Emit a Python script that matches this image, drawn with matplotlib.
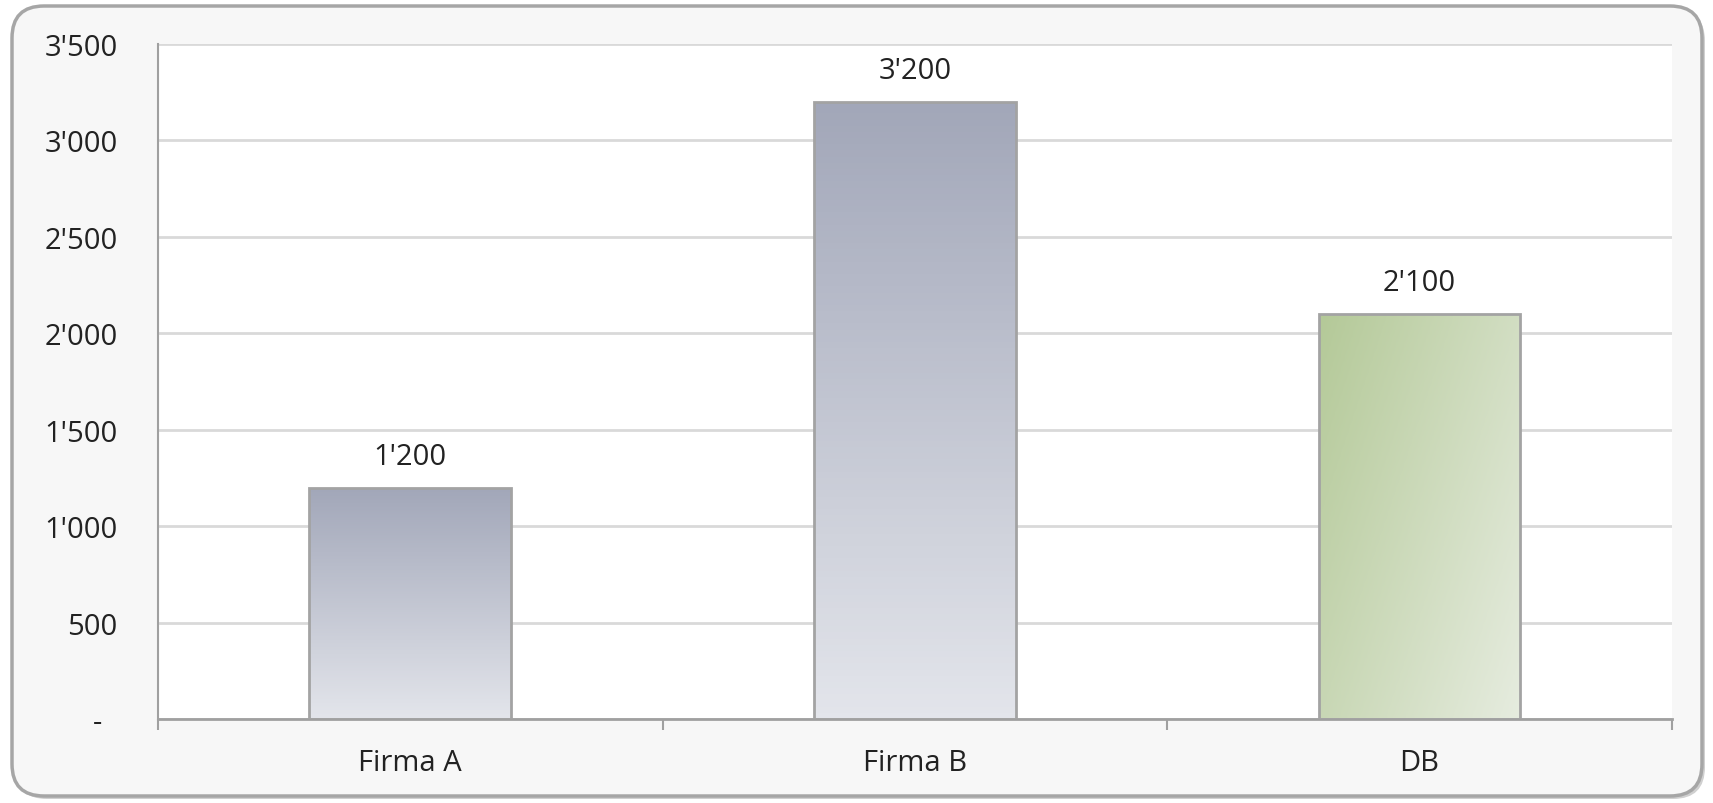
import matplotlib.pyplot as plt
import numpy as np
from matplotlib.patches import FancyBboxPatch
from matplotlib.colors import LinearSegmentedColormap
from matplotlib.ticker import FuncFormatter

# data
categories = ['Firma A', 'Firma B', 'DB']
values = [1200, 3200, 2100]
yticks = [0, 500, 1000, 1500, 2000, 2500, 3000, 3500]

plt.rcParams['font.family'] = ['Open Sans', 'DejaVu Sans']
fs = 21

fig = plt.figure(figsize=(17.13, 8.04), dpi=100)
fig.patch.set_facecolor('white')

# rounded frame around chart (inch coords)
shadow = FancyBboxPatch((0.15, 0.04), 16.9, 7.9, boxstyle='round,pad=0,rounding_size=0.32',
                        transform=fig.dpi_scale_trans, facecolor='#d0d0d0', edgecolor='none',
                        zorder=-3)
frame = FancyBboxPatch((0.12, 0.07), 16.9, 7.9, boxstyle='round,pad=0,rounding_size=0.32',
                       transform=fig.dpi_scale_trans, facecolor='#f7f7f7', edgecolor='#a6a6a6',
                       linewidth=2.5, zorder=-2)
fig.add_artist(shadow)
fig.add_artist(frame)

ax = fig.add_axes([0.0922, 0.1045, 0.8838, 0.8395])
ax.set_facecolor('white')

x = np.arange(len(categories))
bars = ax.bar(x, values, width=0.4, edgecolor='#a3a3a3', linewidth=2, facecolor='none', zorder=3)

grey_cmap = LinearSegmentedColormap.from_list('g', ['#e3e5eb', '#a2a7b9'])
green_cmap = LinearSegmentedColormap.from_list('gr', ['#e6ecdf', '#b4c998'])

for i, b in enumerate(bars):
    x0, y0 = b.get_x(), b.get_y()
    w, h = b.get_width(), b.get_height()
    if categories[i] == 'DB':
        # diagonal gradient, dark at top-left
        gx, gy = np.meshgrid(np.linspace(1, 0, 100), np.linspace(0, 1, 100))
        grad = (gx * 0.6 + gy * 0.4)
        cmap = green_cmap
    else:
        grad = np.linspace(0, 1, 100).reshape(-1, 1)
        cmap = grey_cmap
    im = ax.imshow(grad, extent=[x0, x0 + w, y0, y0 + h], origin='lower', aspect='auto',
                   cmap=cmap, zorder=2)
    im.set_clip_path(b)
    ax.annotate(f"{values[i]:,}".replace(',', "'"), (x0 + w / 2, y0 + h), xytext=(0, 12),
                textcoords='offset points', ha='center', va='bottom', fontsize=fs, color='#222222')

ax.set_xlim(-0.5, 2.5)
ax.set_ylim(0, 3500)
ax.set_yticks(yticks)
ax.yaxis.set_major_formatter(FuncFormatter(lambda v, p: '-  ' if v == 0 else f"{int(v):,}".replace(',', "'")))
ax.tick_params(axis='y', length=0, pad=29, labelsize=fs, labelcolor='#222222')

ax.set_xticks([-0.5, 0.5, 1.5, 2.5])
ax.set_xticklabels([])
ax.set_xticks(x, minor=True)
ax.set_xticklabels(categories, minor=True)
ax.tick_params(axis='x', which='major', length=8, width=1.5, color='#a0a0a0')
ax.tick_params(axis='x', which='minor', length=0, pad=21, labelsize=fs, labelcolor='#222222')

ax.grid(axis='y', color='#d9d9d9', linewidth=2, zorder=0)
ax.set_axisbelow(True)
for s in ['top', 'right']:
    ax.spines[s].set_visible(False)
ax.spines['left'].set_color('#a0a0a0')
ax.spines['bottom'].set_color('#a0a0a0')
ax.spines['left'].set_linewidth(1.5)
ax.spines['bottom'].set_linewidth(2)

fig.savefig('out.png', dpi=100)
